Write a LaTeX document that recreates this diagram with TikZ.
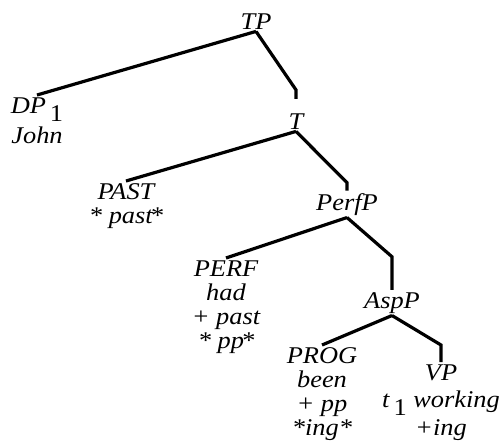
\documentclass[tikz,border=0pt]{standalone}
\usepackage{fontspec}
\setmainfont{Liberation Serif}[FakeStretch=1.1]
\newcommand{\low}[1]{\,\raisebox{-4pt}{\upshape #1}}
\tikzset{
  cat/.style={font=\fontsize{12}{12}\selectfont\itshape, inner sep=1pt, align=center},
  branch/.style={line width=1.6pt}
}
\begin{document}
\begin{tikzpicture}[x=0.5pt,y=-0.5pt]
\useasboundingbox (0,0) rectangle (502,446);

\node[cat, anchor=base] (tp) at (256,29) {TP};
\node[cat, anchor=north] (dp) at (37,95) {DP\low{1}\\[2pt]John};
\node[cat, anchor=base] (t) at (296,129) {T};
\node[cat, anchor=north] (past) at (126,181) {PAST\\* past\kern-1.5pt*};
\node[cat, anchor=base] (perfp) at (347,210) {PerfP};
\node[cat, anchor=north] (perf) at (226,258) {PERF\\had\\+ past\\* pp\kern-1.5pt*};
\node[cat, anchor=base] (aspp) at (392,308) {AspP};
\node[cat, anchor=north] (prog) at (322,345) {PROG\\been\\+ pp\\*ing*};
\node[cat, anchor=north] (vp) at (441,362) {VP\\[1.5pt]t\low{1} working\\[2pt]+ing};

% left branches
\draw[branch] (tp.south) edge (dp.north);
\draw[branch] (t.south) edge (past.north);
\draw[branch] (perfp.south) edge (perf.north);
\draw[branch] (aspp.south) edge (prog.north);

% right branches, bent down at the end
\draw[branch, shorten >=6pt] (tp.south) -- ([yshift=10.5pt]t.north) -- (t.north);
\draw[branch] (t.south) -- ([yshift=4pt]perfp.north) -- (perfp.north);
\draw[branch] (perfp.south) -- ([yshift=16.5pt]aspp.north) -- (aspp.north);
\draw[branch] (aspp.south) -- ([yshift=8.5pt]vp.north) -- (vp.north);

\end{tikzpicture}
\end{document}
